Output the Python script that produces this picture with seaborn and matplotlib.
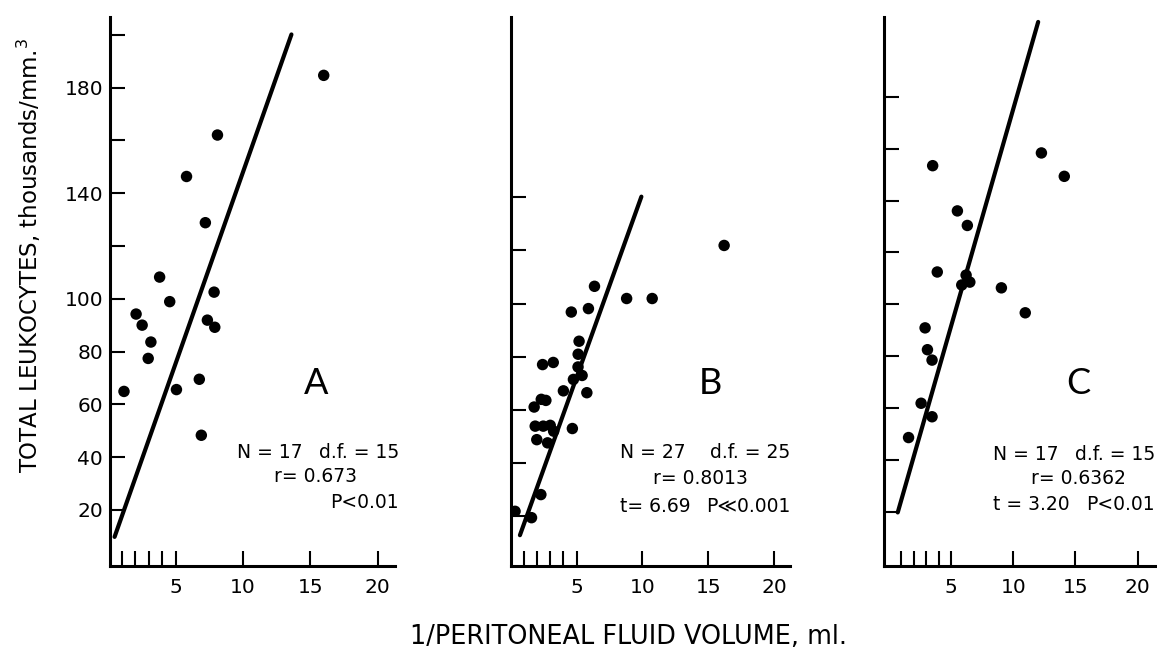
import numpy as np
import pandas as pd
import seaborn as sns
import matplotlib.pyplot as plt

# panel A: 1/fluid volume vs leukocytes
a_x = [16.0, 8.1, 5.8, 7.2, 3.8, 4.55, 7.85, 2.05, 2.5, 7.35, 7.9, 3.15, 2.95, 1.15, 5.05, 6.75, 6.9]
a_y = [184.6, 162.0, 146.3, 128.8, 108.2, 98.9, 102.5, 94.2, 90.0, 91.9, 89.2, 83.6, 77.4, 64.9, 65.6, 69.5, 48.3]

# panel B
b_x = [16.2, 6.36, 8.8, 10.74, 5.9, 4.6, 5.19, 5.12, 5.11, 5.42, 4.76, 5.78, 4.0, 2.42,
       3.23, 2.32, 2.67, 1.78, 1.86, 2.47, 3.0, 3.26, 1.98, 2.8, 4.68, 2.29, 0.33, 1.58]
b_y = [121.9, 106.5, 101.9, 101.9, 98.1, 96.8, 85.8, 80.9, 76.1, 72.9, 71.4, 66.4, 67.1, 77.0,
       77.8, 63.9, 63.5, 61.0, 53.8, 53.8, 54.1, 51.9, 48.7, 47.5, 52.9, 28.0, 21.7, 19.3]

# panel C
c_x = [12.26, 14.1, 3.51, 5.5, 6.3, 3.88, 6.2, 5.85, 6.5, 9.04, 10.96, 2.9, 3.09, 3.46, 2.58, 3.46, 1.57]
c_y = [158.3, 149.3, 153.4, 136.0, 130.4, 112.5, 111.3, 107.5, 108.6, 106.4, 96.8, 91.0, 82.6, 78.6, 62.0, 56.8, 48.8]

# fitted lines: intercept, slope, x start, x end
fit_a = (3.3, 14.47, 0.45, 13.6)
fit_b = (3.0, 13.84, 0.7, 9.92)
fit_c = (8.3, 16.7, 0.7, 12.0)

letters = ["A", "B", "C"]
stats_n = ["N = 17", "N = 27", "N = 17"]
stats_df = ["d.f. = 15", "d.f. = 25", "d.f. = 15"]
stats_r = ["r= 0.673", "r= 0.8013", "r= 0.6362"]
stats_t = ["", "t= 6.69", "t = 3.20"]
stats_p = ["P<0.01", "P\u226a0.001", "P<0.01"]

x_ticks = [1, 2, 3, 4, 5, 10, 15, 20]
x_ticklabels = ["", "", "", "", "5", "10", "15", "20"]
a_yticks = [20, 40, 60, 80, 100, 120, 140, 160, 180, 200]
a_yticklabels = ["20", "40", "60", "80", "100", "", "140", "", "180", ""]
b_yticks = [20, 40, 60, 80, 100, 120, 140]
c_yticks = [20, 40, 60, 80, 100, 120, 140, 160, 180]

sns.set_style("ticks")
plt.rcParams["font.family"] = ["DejaVu Sans"]
plt.rcParams["text.color"] = "black"
plt.rcParams["xtick.color"] = "black"
plt.rcParams["ytick.color"] = "black"

W, H = 1157, 651
fig = plt.figure(figsize=(W / 100, H / 100), dpi=100)


def px(x, y):
    return x / W, 1 - y / H


# axes boxes in pixels: left, right, top, bottom
boxes = [(110, 394.6, 17, 565.7), (510.7, 790, 17, 565.7), (883.7, 1155, 17, 565.7)]
xlims = [(0.11, 21.27), (0.0, 21.2), (-0.43, 21.4)]
ylims = [(-1.1, 206.7), (1.2, 208.0), (-0.5, 210.6)]
panels = [(a_x, a_y, fit_a, a_yticks, a_yticklabels),
          (b_x, b_y, fit_b, b_yticks, [""] * len(b_yticks)),
          (c_x, c_y, fit_c, c_yticks, [""] * len(c_yticks))]

axes = []
for i, (xs, ys, fit, yt, ytl) in enumerate(panels):
    l, r, t, b = boxes[i]
    ax = fig.add_axes([l / W, 1 - b / H, (r - l) / W, (b - t) / H])
    df = pd.DataFrame({"x": xs, "y": ys})
    sns.scatterplot(data=df, x="x", y="y", ax=ax, color="black", s=68,
                    edgecolor="none", linewidth=0, zorder=3)
    fx = np.array([fit[2], fit[3]])
    sns.lineplot(x=fx, y=fit[0] + fit[1] * fx, ax=ax, color="black", lw=3.0)
    ax.set_xlim(*xlims[i])
    ax.set_ylim(*ylims[i])
    ax.set_xticks(x_ticks)
    ax.set_xticklabels(x_ticklabels)
    ax.set_yticks(yt)
    ax.set_yticklabels(ytl)
    ax.tick_params(direction="in", length=11, width=1.5, labelsize=14.5,
                   color="black", labelcolor="black")
    ax.tick_params(axis="x", pad=9)
    ax.tick_params(axis="y", pad=5)
    ax.set_xlabel("")
    ax.set_ylabel("")
    for s in ["top", "right"]:
        ax.spines[s].set_visible(False)
    for s in ["left", "bottom"]:
        ax.spines[s].set_linewidth(2.2)
        ax.spines[s].set_color("black")
    axes.append(ax)

# panel letters and statistics
letter_pos = [(316, 383), (710, 383), (1078, 383)]
n_pos = [(237, 452), (620, 452), (993, 454)]
df_pos = [(399, 452), (790, 452), (1155, 454)]
r_pos = [(316, 477), (700, 478), (1078, 479)]
t_pos = [(237, 502), (620, 506), (993, 505)]
p_pos = [(399, 502), (790, 506), (1155, 505)]

stat_font = dict(fontsize=13.5, family=["DejaVu Sans"])
for i in range(3):
    fig.text(*px(*letter_pos[i]), letters[i], fontsize=26, ha="center", va="center",
             family=["Lato", "DejaVu Sans"], fontweight="normal")
    fig.text(*px(*n_pos[i]), stats_n[i], ha="left", va="center", **stat_font)
    fig.text(*px(*df_pos[i]), stats_df[i], ha="right", va="center", **stat_font)
    fig.text(*px(*r_pos[i]), stats_r[i], ha="center", va="center", **stat_font)
    if stats_t[i]:
        fig.text(*px(*t_pos[i]), stats_t[i], ha="left", va="center", **stat_font)
    fig.text(*px(*p_pos[i]), stats_p[i], ha="right", va="center", **stat_font)

fig.text(*px(29, 256), "TOTAL LEUKOCYTES, thousands/mm.$^3$", fontsize=16.5,
         rotation=90, ha="center", va="center")
fig.text(*px(628, 637), "1/PERITONEAL FLUID VOLUME, ml.", fontsize=18.4,
         ha="center", va="center")

fig.savefig("out.png", dpi=100, facecolor="white")
